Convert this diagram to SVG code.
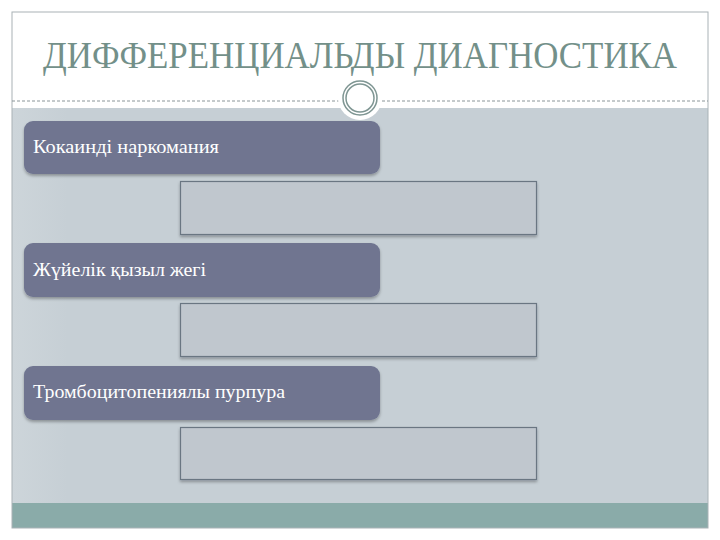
<svg xmlns="http://www.w3.org/2000/svg" width="720" height="540" viewBox="0 0 720 540">
<defs>
<filter id="sh" x="-5%" y="-10%" width="110%" height="130%"><feDropShadow dx="0" dy="2" stdDeviation="1.5" flood-color="#000" flood-opacity="0.3"/></filter>
<linearGradient id="bg" x1="0" x2="1" y1="0" y2="0"><stop offset="0" stop-color="#cdd5da"/><stop offset="0.08" stop-color="#c6cfd5"/><stop offset="1" stop-color="#c6cfd5"/></linearGradient>
</defs>
<style>
.dark{fill:#6f7590;filter:url(#sh)}
.light{fill:#c0c7ce;stroke:#6b7682;stroke-width:1.2;filter:url(#sh)}
.lbl{font-family:"Liberation Serif",serif;font-size:18px;fill:#ffffff}
</style>
<rect x="0" y="0" width="720" height="540" fill="#ffffff"/>
<rect x="12" y="108" width="696" height="395" fill="url(#bg)"/>
<rect x="12" y="503" width="696" height="25" fill="#8aaba9"/>
<rect x="12" y="12" width="696" height="516" fill="none" stroke="#a9b2b6" stroke-width="1"/>
<line x1="12" y1="101" x2="708" y2="101" stroke="#8a9598" stroke-width="1" stroke-dasharray="3,2"/>
<circle cx="360" cy="98" r="22" fill="#ffffff"/>
<circle cx="360" cy="98" r="17" fill="none" stroke="#7f9693" stroke-width="1.5"/>
<circle cx="360" cy="98" r="14" fill="none" stroke="#7f9693" stroke-width="1.5"/>
<text x="360" y="68" text-anchor="middle" font-family="Liberation Serif,serif" font-size="37" fill="#739089" textLength="634" lengthAdjust="spacingAndGlyphs">ДИФФЕРЕНЦИАЛЬДЫ ДИАГНОСТИКА</text>
<g id="n1"><rect class="dark" x="24" y="121" width="356" height="53" rx="9"/><text class="lbl" x="33" y="153" textLength="186" lengthAdjust="spacingAndGlyphs">Кокаинді наркомания</text></g>
<g id="n1b"><rect class="light" x="180.5" y="181.5" width="356" height="53"/></g>
<g id="n2"><rect class="dark" x="24" y="243" width="356" height="54" rx="9"/><text class="lbl" x="33" y="276" textLength="173" lengthAdjust="spacingAndGlyphs">Жүйелік қызыл жегі</text></g>
<g id="n2b"><rect class="light" x="180.5" y="303.5" width="356" height="53"/></g>
<g id="n3"><rect class="dark" x="24" y="366" width="356" height="54" rx="9"/><text class="lbl" x="33" y="398" textLength="252" lengthAdjust="spacingAndGlyphs">Тромбоцитопениялы пурпура</text></g>
<g id="n3b"><rect class="light" x="180.5" y="427.5" width="356" height="52"/></g>
<g id="connectors"></g>
</svg>
